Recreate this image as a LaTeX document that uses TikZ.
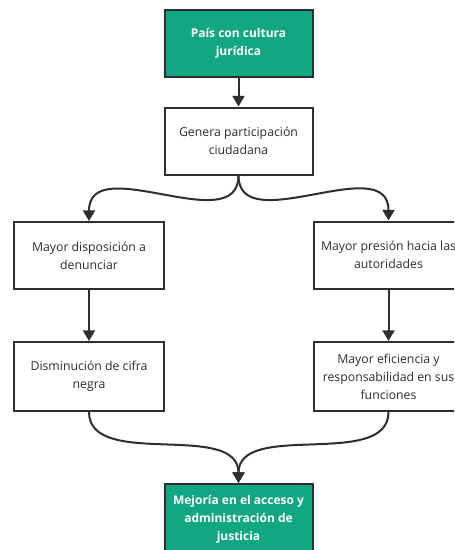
\documentclass[tikz,border=0pt]{standalone}
\usepackage{fontspec}
\setmainfont{Open Sans}
\usetikzlibrary{arrows.meta}
\definecolor{teal1}{HTML}{12A683}
\definecolor{ink}{HTML}{2E2E2E}
\begin{document}
\begin{tikzpicture}[x=0.75pt,y=-0.75pt,
  box/.style={draw=ink,line width=1.5pt,minimum width=148*0.75pt,minimum height=67*0.75pt,align=center,inner sep=0pt,font=\fontsize{9.2pt}{13.5pt}\selectfont,text=ink},
  keybox/.style={box,fill=teal1,text=white,font=\fontsize{9pt}{13.5pt}\selectfont\bfseries},
  conn/.style={draw=ink,line width=1.5pt,-{Triangle[length=8pt,width=9pt]}}]
\useasboundingbox (0,0) rectangle (454,550);
\clip (0,0) rectangle (454,550);
\fill[white] (0,0) rectangle (454,550);
\node[keybox] (a) at (238.5,43.5) {País con cultura\\jurídica};
\node[box] (b) at (238.5,141) {Genera participación\\ciudadana};
\node[box,minimum width=150*0.75pt] (c) at (89,255.5) {Mayor disposición a\\denunciar};
\node[box,minimum width=150*0.75pt] (d) at (388.5,255) {Mayor presión hacia las\\autoridades};
\node[box,minimum width=150*0.75pt,minimum height=69*0.75pt] (e) at (89,376.5) {Disminución de cifra\\negra};
\node[box,minimum width=150*0.75pt,minimum height=69*0.75pt] (f) at (388.5,376.5) {Mayor eficiencia y\\responsabilidad en sus\\funciones};
\node[keybox,minimum height=70*0.75pt] (g) at (238.5,519) {Mejoría en el acceso y\\administración de\\justicia};
\draw[conn] (a.south) -- (b.north);
\draw[conn] (b.south) .. controls (238.5,240) and (89,150) .. (c.north);
\draw[conn] (b.south) .. controls (238.5,240) and (388.5,150) .. (d.north);
\draw[conn] (c.south) -- (e.north);
\draw[conn] (d.south) -- (f.north);
\draw[conn] (e.south) .. controls (89,470) and (238.5,420) .. (g.north);
\draw[conn] (f.south) .. controls (388.5,470) and (238.5,420) .. (g.north);
\end{tikzpicture}
\end{document}
